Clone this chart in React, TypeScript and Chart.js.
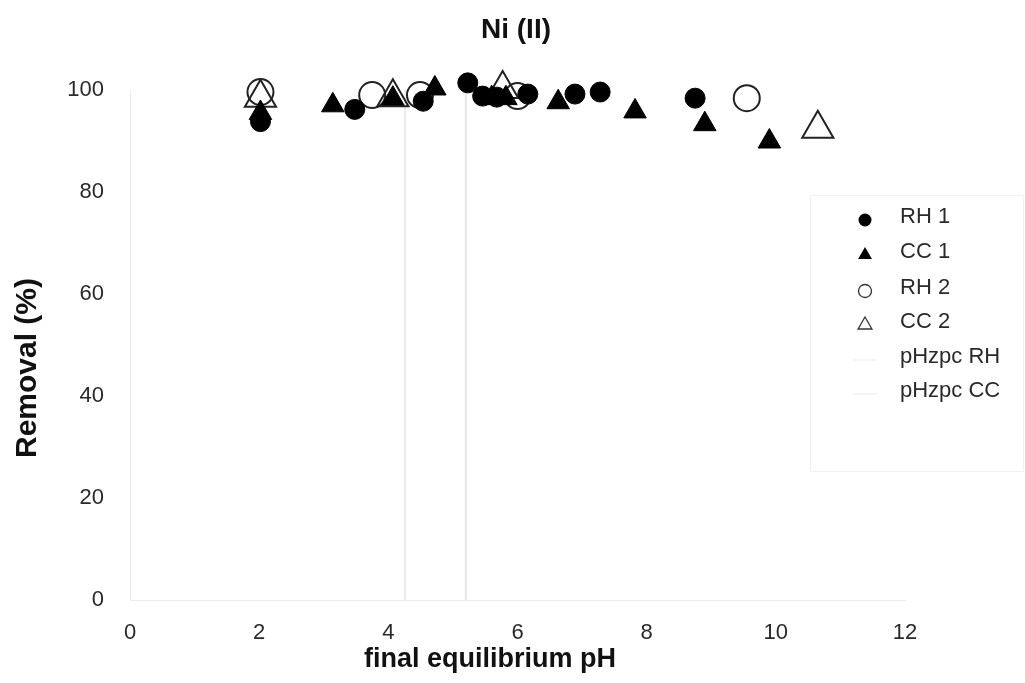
import React, { useEffect, useRef } from "react";
import { Chart, registerables } from "chart.js";

Chart.register(...registerables);

const rh1X = [2.02, 3.48, 4.54, 5.23, 5.46, 5.68, 6.16, 6.89, 7.28, 8.75];
const rh1Y = [93.8, 96.2, 97.8, 101.4, 98.8, 98.6, 99.2, 99.2, 99.6, 98.4];
const cc1X = [2.02, 3.14, 4.07, 4.72, 5.6, 5.82, 6.63, 7.82, 8.9, 9.9];
const cc1Y = [95.5, 97.0, 98.3, 100.3, 98.4, 98.4, 97.6, 95.8, 93.3, 89.9];
const rh2X = [2.02, 3.75, 4.49, 6.0, 9.55];
const rh2Y = [99.6, 99.0, 99.0, 98.8, 98.4];
const cc2X = [2.02, 4.07, 5.77, 10.65];
const cc2Y = [98.5, 98.6, 100.2, 92.4];
const pHzpcRH = 4.26;
const pHzpcCC = 5.2;
const lineSpan = [0, 100];

const chartTitle = "Ni (II)";
const xTitle = "final equilibrium pH";
const yTitle = "Removal (%)";
const seriesNames = ["RH 1", "CC 1", "RH 2", "CC 2", "pHzpc RH", "pHzpc CC"];
const xTicks = [0, 2, 4, 6, 8, 10, 12];
const yTicks = [0, 20, 40, 60, 80, 100];

const pts = (xs: number[], ys: number[]) => xs.map((x, i) => ({ x, y: ys[i] }));

const FONT = "'Liberation Sans', Arial, sans-serif";

const overlayPlugin = {
  id: "overlay",
  afterDraw(chart: any) {
    const ctx = chart.ctx;
    ctx.save();
    ctx.fillStyle = "#111";
    ctx.textAlign = "center";
    ctx.textBaseline = "middle";
    // title
    ctx.font = `bold 28px ${FONT}`;
    ctx.fillText(chartTitle, 516, 30);
    // axis titles
    ctx.font = `bold 27px ${FONT}`;
    ctx.fillText(xTitle, 490, 660);
    ctx.save();
    ctx.translate(28, 368);
    ctx.rotate(-Math.PI / 2);
    ctx.font = `bold 30px ${FONT}`;
    ctx.fillText(yTitle, 0, 0);
    ctx.restore();
    // legend box
    ctx.strokeStyle = "#f1f1f1";
    ctx.lineWidth = 1;
    ctx.fillStyle = "#ffffff";
    ctx.fillRect(810, 195, 213, 276);
    ctx.strokeRect(810.5, 195.5, 213, 276);
    const rows = [217, 252, 288, 322, 357, 391];
    const mx = 865;
    ctx.font = `22px ${FONT}`;
    ctx.textBaseline = "middle";
    ctx.textAlign = "left";
    rows.forEach((ry, i) => {
      ctx.fillStyle = "#2a2a2a";
      ctx.fillText(seriesNames[i], 900, ry);
      const cy = ry + 3;
      ctx.beginPath();
      if (i === 0 || i === 2) {
        ctx.arc(mx, cy, 6.5, 0, Math.PI * 2);
      } else if (i === 1 || i === 3) {
        const r = 8;
        ctx.moveTo(mx, cy - r);
        ctx.lineTo(mx + r * Math.sin((2 * Math.PI) / 3), cy + r / 2);
        ctx.lineTo(mx - r * Math.sin((2 * Math.PI) / 3), cy + r / 2);
        ctx.closePath();
      } else {
        ctx.moveTo(mx - 12, cy);
        ctx.lineTo(mx + 12, cy);
        ctx.strokeStyle = "#f6f6f6";
        ctx.lineWidth = 2;
        ctx.stroke();
        return;
      }
      if (i < 2) {
        ctx.fillStyle = "#000";
        ctx.fill();
      } else {
        ctx.strokeStyle = "#333";
        ctx.lineWidth = 1.3;
        ctx.stroke();
      }
    });
    ctx.restore();
  },
};

export default function App() {
  const ref = useRef<HTMLCanvasElement>(null);
  useEffect(() => {
    if (!ref.current) return;
    const chart = new Chart(ref.current, {
      type: "scatter",
      data: {
        datasets: [
          {
            label: seriesNames[0],
            data: pts(rh1X, rh1Y),
            pointStyle: "circle",
            pointRadius: 10,
            backgroundColor: "#000",
            borderColor: "#000",
            borderWidth: 1,
            clip: false,
            order: 1,
          } as any,
          {
            label: seriesNames[1],
            data: pts(cc1X, cc1Y),
            pointStyle: "triangle",
            pointRadius: 13,
            backgroundColor: "#000",
            borderColor: "#000",
            borderWidth: 1,
            clip: false,
            order: 2,
          },
          {
            label: seriesNames[2],
            data: pts(rh2X, rh2Y),
            pointStyle: "circle",
            pointRadius: 13,
            backgroundColor: "rgba(0,0,0,0)",
            borderColor: "#222",
            borderWidth: 2,
            clip: false,
            order: 3,
          },
          {
            label: seriesNames[3],
            data: pts(cc2X, cc2Y),
            pointStyle: "triangle",
            pointRadius: 18,
            backgroundColor: "rgba(0,0,0,0)",
            borderColor: "#222",
            borderWidth: 2,
            clip: false,
            order: 4,
          },
          {
            label: seriesNames[4],
            data: lineSpan.map((y) => ({ x: pHzpcRH, y })),
            showLine: true,
            pointRadius: 0,
            borderColor: "#ebebeb",
            borderWidth: 2,
            order: 5,
          },
          {
            label: seriesNames[5],
            data: lineSpan.map((y) => ({ x: pHzpcCC, y })),
            showLine: true,
            pointRadius: 0,
            borderColor: "#e6e6e6",
            borderWidth: 2,
            order: 6,
          },
        ],
      },
      options: {
        animation: false,
        responsive: true,
        maintainAspectRatio: false,
        layout: { padding: { left: 0, right: 120, top: 90, bottom: 0 } },
        plugins: {
          legend: { display: false },
          tooltip: { enabled: false },
          title: { display: false },
        },
        scales: {
          x: {
            type: "linear",
            min: 0,
            max: 12,
            afterBuildTicks: (s: any) => {
              s.ticks = xTicks.map((v) => ({ value: v }));
            },
            afterFit: (s: any) => {
              s.height = 83;
            },
            grid: { display: false, drawTicks: false },
            border: { display: true, color: "#ebebeb", width: 1 },
            ticks: {
              color: "#2a2a2a",
              font: { family: FONT, size: 22 },
              padding: 20,
            },
            title: { display: false },
          },
          y: {
            type: "linear",
            min: 0,
            max: 100,
            afterBuildTicks: (s: any) => {
              s.ticks = yTicks.map((v) => ({ value: v }));
            },
            afterFit: (s: any) => {
              s.width = 130;
            },
            grid: { display: false, drawTicks: false },
            border: { display: true, color: "#ebebeb", width: 1 },
            ticks: {
              color: "#2a2a2a",
              font: { family: FONT, size: 22 },
              padding: 26,
            },
            title: { display: false },
          },
        },
      },
      plugins: [overlayPlugin],
    });
    return () => chart.destroy();
  }, []);
  return (
    <div style={{ position: "absolute", left: 0, top: 0, width: 1025, height: 683, background: "#fff" }}>
      <canvas ref={ref} />
    </div>
  );
}
